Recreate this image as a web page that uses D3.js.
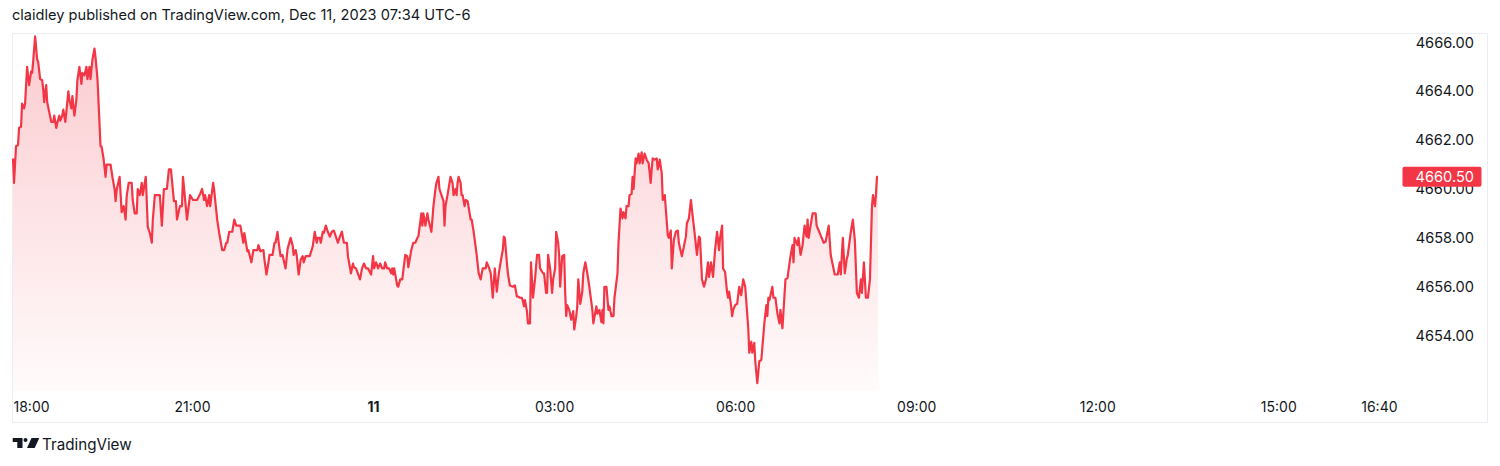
<!DOCTYPE html>
<html><head><meta charset="utf-8">
<script src="https://cdn.jsdelivr.net/npm/d3@7"></script>
<style>
body{margin:0;background:#fff;}
svg{display:block;font-family:Inter, Roboto, "Noto Sans", sans-serif;}
</style>
</head><body>
<svg id="c" width="1500" height="466"></svg>
<script>
const title = "claidley published on TradingView.com, Dec 11, 2023 07:34 UTC-6";
const brand = "TradingView";
// minutes since 18:00 (Dec 10, UTC-6)
const times = [2,3,5,7,8,10,11,13,14,16,18,20,21,22,24,26,27,29,31,32,33,35,36,38,40,42,43,45,46,48,49,51,52,54,55,57,58,60,61,63,65,66,68,70,71,73,75,76,78,79,81,83,84,86,
89,90,92,94,95,99,101,103,104,105,108,110,112,114,115,117,120,121,123,125,126,128,130,131,134,136,138,140,141,143,148,150,152,155,157,159,162,164,165,168,170,171,175,178,181,185,188,190,192,193,195,197,198,201,202,205,207,210,212,214,215,217,220,222,224,228,231,232,235,236,239,241,245,246,248,251,252,254,256,257,260,262,263,265,
266,268,270,271,273,275,278,280,281,283,284,286,288,290,291,293,297,300,302,304,305,307,308,310,311,313,315,317,319,321,323,325,327,329,331,334,335,338,340,341,343,347,349,351,353,355,358,360,361,363,365,367,369,371,372,374,376,378,379,380,381,384,385,387,389,392,394,395,398,400,402,404,405,408,409,410,412,414,415,418,420,422,423,425,426,428,430,431,432,434,435,437,439,440,442,443,444,
445,447,448,449,451,452,454,457,458,460,463,465,467,469,472,473,475,477,479,481,483,485,488,489,490,491,493,494,496,499,501,503,504,506,508,509,510,511,513,514,516,517,519,521,523,525,526,529,530,532,533,534,536,538,539,541,542,544,545,546,548,550,551,552,553,555,557,559,560,562,563,564,566,568,569,571,573,575,578,579,582,583,585,587,588,589,590,592,594,595,597,599,600,603,604,606,608,609,611,612,614,615,617,618,619,621,
622,624,625,627,628,630,632,634,636,637,638,640,642,643,645,647,648,650,653,654,656,657,659,661,663,664,667,669,671,672,674,676,678,679,682,684,685,687,689,691,693,694,696,698,700,702,704,705,707,708,710,712,713,714,716,717,718,720,722,724,726,728,730,733,734,736,737,739,740,742,744,746,747,749,751,752,753,754,757,758,760,762,764,765,767,770,772,775,777,778,779,782,783,785,787,789,791,792,793,795,797,
800,801,803,806,808,810,813,815,817,819,822,824,825,827,829,831,832,835,837,839,841,843,845,846,848,850,852,854,856,857,859,860,861,862];
const prices = [4661.25,4660.25,4661.75,4661.8,4662.5,4662.55,4663.5,4663.3,4663.5,4665.0,4664.25,4664.8,4664.75,4665.2,4666.25,4665.3,4665.2,4664.5,4664.45,4664.1,4663.55,4664.25,4663.55,4663.15,4662.75,4662.75,4663.0,4662.5,4662.7,4663.0,4662.8,4663.0,4663.25,4662.75,4663.15,4664.0,4663.65,4663.3,4663.8,4663.0,4663.65,4664.45,4665.0,4664.3,4664.75,4664.65,4665.0,4664.5,4665.0,4664.5,4665.3,4665.75,4665.4,4664.5,
4661.75,4661.75,4661.25,4660.5,4661.0,4661.0,4660.45,4660.0,4659.5,4659.95,4660.5,4659.05,4659.3,4658.75,4659.7,4660.25,4660.25,4659.55,4659.0,4659.0,4660.0,4659.75,4660.25,4659.75,4660.5,4658.45,4658.2,4657.8,4658.75,4659.75,4659.75,4658.5,4660.0,4660.0,4660.8,4660.8,4659.5,4659.5,4658.75,4659.3,4659.3,4660.5,4658.75,4659.75,4659.55,4659.55,4659.8,4660.0,4659.55,4659.75,4659.3,4659.75,4659.3,4660.25,4659.95,4658.75,4658.2,4657.5,4657.5,4657.8,4657.8,4658.25,4658.25,4658.75,4658.5,4658.5,4657.8,4658.2,4657.45,4657.5,4657.0,4657.5,4657.5,4657.7,4657.45,4657.5,4657.1,4656.5,4657.0,4657.3,4657.3,4657.8,4657.8,4658.25,
4657.85,4657.25,4657.3,4657.1,4656.75,4657.55,4658.0,4657.7,4657.3,4657.5,4657.3,4656.5,4657.1,4657.25,4657.0,4657.25,4657.25,4657.65,4658.25,4657.8,4658.0,4658.0,4657.8,4658.25,4658.2,4658.5,4658.25,4658.05,4658.25,4658.3,4658.05,4657.8,4658.05,4658.25,4657.8,4657.8,4657.25,4656.55,4656.95,4656.8,4656.75,4656.3,4656.75,4656.95,4656.75,4656.75,4656.5,4657.25,4656.75,4657.0,4656.75,4656.95,4656.75,4656.75,4657.0,4656.75,4656.75,4656.55,4656.75,4656.5,4656.75,4656.05,4656.0,4656.3,4656.3,4657.3,4657.25,4656.8,4657.5,4657.8,4657.8,4658.0,4658.05,4659.0,4658.5,4659.0,4658.5,4659.0,4658.75,4658.25,4659.3,4660.0,4660.25,4660.5,4660.0,4659.75,4659.5,4658.5,4659.3,4659.75,4660.0,4660.5,4660.25,4659.75,4660.0,4659.75,4660.25,
4660.5,4660.25,4659.75,4659.75,4659.3,4659.55,4659.5,4658.75,4658.75,4658.25,4657.3,4656.55,4656.3,4656.75,4656.75,4657.0,4656.8,4656.55,4655.55,4656.75,4655.8,4656.55,4657.3,4657.5,4658.05,4658.0,4657.0,4656.55,4656.05,4656.0,4656.05,4655.6,4655.6,4655.55,4655.55,4655.4,4655.2,4655.45,4655.0,4654.5,4654.5,4657.0,4655.55,4656.3,4657.3,4657.3,4656.75,4656.55,4656.55,4655.75,4655.75,4657.3,4656.75,4655.75,4656.3,4656.75,4658.25,4657.8,4657.3,4656.0,4657.25,4657.3,4655.75,4654.8,4655.25,4655.05,4654.65,4655.0,4654.25,4654.8,4655.2,4656.3,4655.3,4655.8,4656.55,4657.0,4656.55,4656.0,4655.05,4654.5,4655.2,4654.9,4655.05,4654.55,4655.05,4654.5,4656.0,4656.0,4655.05,4655.2,4654.8,4654.8,4655.55,4656.55,4657.8,4659.2,4658.8,4659.05,4658.8,4659.3,4659.3,4659.75,4659.8,4660.5,4660.0,4661.25,
4661.05,4661.45,4661.05,4661.5,4661.05,4661.45,4661.2,4661.05,4660.25,4660.8,4661.25,4661.2,4661.25,4660.8,4661.2,4660.65,4659.55,4659.75,4658.1,4658.0,4658.3,4656.75,4657.9,4658.25,4658.3,4657.8,4657.25,4657.65,4658.05,4658.6,4658.8,4659.55,4658.8,4658.45,4657.3,4658.05,4658.0,4656.3,4656.0,4656.3,4657.0,4656.4,4657.0,4656.4,4657.5,4658.25,4657.5,4658.0,4658.5,4656.75,4656.6,4655.75,4655.55,4655.8,4655.2,4654.8,4655.05,4655.25,4655.3,4656.0,4655.65,4656.3,4656.0,4654.3,4653.3,4653.75,4653.3,4653.7,4652.95,4652.05,4652.95,4653.0,4653.5,4654.5,4655.25,4654.8,4655.55,4655.45,4656.0,4655.55,4655.55,4654.9,4654.5,4655.05,4654.3,4656.3,4656.35,4657.25,4657.7,4657.0,4658.0,4657.7,4658.0,4657.3,4657.7,4658.5,4658.05,4658.75,4658.0,4658.5,4659.0,
4659.0,4658.5,4658.3,4658.0,4657.8,4657.85,4658.5,4657.3,4656.9,4656.5,4656.5,4657.0,4656.5,4658.0,4656.55,4657.15,4657.3,4658.25,4658.75,4657.9,4655.75,4655.55,4656.3,4655.75,4657.0,4655.55,4655.55,4656.3,4659.3,4659.75,4659.3,4659.8,4660.5,4660.5];
const priceTicks = [4654, 4656, 4658, 4660, 4662, 4664, 4666];
const timeTicks = [0, 180, 360, 540, 720, 900, 1080, 1260, 1360];
const timeLabels = ["18:00", "21:00", "11", "03:00", "06:00", "09:00", "12:00", "15:00", "16:40"];
const boldLabels = ["11"];

const data = times.map((t, i) => ({t, v: prices[i]}));
const lastPrice = prices[prices.length - 1];

const svg = d3.select("#c");
const lineColor = "#F23645";

const x = d3.scaleLinear().domain([0, 1381]).range([11, 1400]);
const y = d3.scaleLinear().domain([4654, 4666]).range([335.6, 42.4]);
const plotBottom = 391;

// title
svg.append("text").attr("x", 12).attr("y", 20)
  .attr("font-size", 14.6).attr("fill", "#131722").text(title);

// frame
svg.append("rect").attr("x", 12.5).attr("y", 33.5).attr("width", 1475).attr("height", 389)
  .attr("fill", "none").attr("stroke", "#eceef3").attr("stroke-width", 1);

// gradient
const defs = svg.append("defs");
const grad = defs.append("linearGradient").attr("id", "g").attr("gradientUnits", "userSpaceOnUse")
  .attr("x1", 0).attr("x2", 0).attr("y1", 33).attr("y2", plotBottom);
grad.append("stop").attr("offset", 0).attr("stop-color", lineColor).attr("stop-opacity", 0.26);
grad.append("stop").attr("offset", 1).attr("stop-color", lineColor).attr("stop-opacity", 0.02);

const area = d3.area().x(d => x(d.t)).y0(plotBottom).y1(d => y(d.v));
svg.append("path").datum(data).attr("d", area).attr("fill", "url(#g)");

const line = d3.line().x(d => x(d.t)).y(d => y(d.v));
svg.append("path").datum(data).attr("d", line).attr("fill", "none")
  .attr("stroke", lineColor).attr("stroke-width", 2.2).attr("stroke-linejoin", "round");

// price axis
const yAxis = d3.axisRight(y).tickValues(priceTicks).tickFormat(d3.format(".2f")).tickSize(0).tickPadding(0);
const yg = svg.append("g").attr("transform", "translate(1474,0)").call(yAxis);
yg.select(".domain").remove();
yg.selectAll("text").attr("text-anchor", "end").attr("fill", "#131722")
  .attr("font-family", "Inter, Roboto, sans-serif").attr("font-size", 14.6);

// last price label
const ly = y(lastPrice);
svg.append("rect").attr("x", 1402.5).attr("y", ly - 10).attr("width", 79).attr("height", 20)
  .attr("rx", 2).attr("fill", lineColor);
svg.append("text").attr("x", 1474).attr("y", ly).attr("dy", "0.34em").attr("text-anchor", "end")
  .attr("font-size", 14.6).attr("fill", "#fff").text(d3.format(".2f")(lastPrice));

// time axis
const xAxis = d3.axisBottom(x).tickValues(timeTicks).tickFormat((d, i) => timeLabels[i]).tickSize(0).tickPadding(0);
const xg = svg.append("g").attr("transform", "translate(0,402)").call(xAxis);
xg.select(".domain").remove();
xg.selectAll("text").attr("fill", "#131722").attr("font-family", "Inter, Roboto, sans-serif")
  .attr("font-size", 14).attr("dy", "0.34em").attr("y", 5)
  .attr("font-weight", (d, i) => boldLabels.includes(timeLabels[i]) ? 700 : 400)
  .each(function(d, i) {
    if (i === 0) d3.select(this).attr("text-anchor", "start").attr("x", 13 - x(d));
  });

// footer logo
const logo = svg.append("g").attr("transform", "translate(12.7,438)").attr("fill", "#131722");
logo.append("path").attr("d", "M0,0 H9.8 V10 H4.6 V4 H0 Z");
logo.append("circle").attr("cx", 12.8).attr("cy", 2).attr("r", 2);
logo.append("path").attr("d", "M14.3,10 L18.8,0 H26.6 L22,10 Z");
svg.append("text").attr("x", 42).attr("y", 450).attr("font-size", 15.2).attr("fill", "#131722").text(brand);
</script>
</body></html>
